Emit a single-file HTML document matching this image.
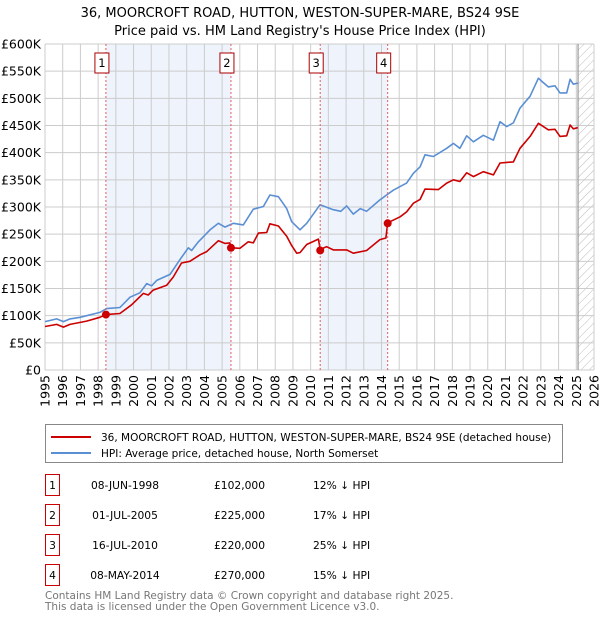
<!DOCTYPE html>
<html><head><meta charset="utf-8"><style>
body{margin:0;background:#fff;font-family:"DejaVu Sans","Liberation Sans",sans-serif;}
svg text{font-family:"DejaVu Sans","Liberation Sans",sans-serif;}
</style></head><body>
<svg id="chart" width="600" height="620" viewBox="0 0 600 620" xmlns="http://www.w3.org/2000/svg">
<defs><pattern id="hatch" width="6" height="6" patternUnits="userSpaceOnUse" patternTransform="rotate(45)"><line x1="0" y1="0" x2="0" y2="6" stroke="#bbb" stroke-width="1"/></pattern></defs>
<text x="300" y="17" text-anchor="middle" font-size="13">36, MOORCROFT ROAD, HUTTON, WESTON-SUPER-MARE, BS24 9SE</text>
<text x="300" y="35" text-anchor="middle" font-size="13">Price paid vs. HM Land Registry's House Price Index (HPI)</text>
<g id="bands"></g><g id="grid"></g><g id="axes"></g><g id="series"></g><g id="markers"></g>
<g>
<rect x="45.5" y="424.5" width="517" height="38" fill="#fff" stroke="#888"/>
<line x1="51" y1="437" x2="91" y2="437" stroke="#cc0000" stroke-width="2"/>
<text x="101" y="441" font-size="10.5">36, MOORCROFT ROAD, HUTTON, WESTON-SUPER-MARE, BS24 9SE (detached house)</text>
<line x1="51" y1="453" x2="91" y2="453" stroke="#5b8fd4" stroke-width="2"/>
<text x="101" y="457" font-size="10.5">HPI: Average price, detached house, North Somerset</text>
</g>
<g id="table" font-size="10.7"></g>
<text x="45" y="599" font-size="10.5" fill="#777">Contains HM Land Registry data © Crown copyright and database right 2025.</text>
<text x="45" y="610" font-size="10.5" fill="#777">This data is licensed under the Open Government Licence v3.0.</text>
</svg>
<script>
const hpiYears=[1995,1995.66,1996.04,1996.41,1996.98,1998.1,1998.48,1999.23,1999.8,2000.36,2000.74,2001.02,2001.31,2002.06,2002.62,2003.09,2003.28,2003.66,2004.32,2004.79,2005.16,2005.63,2006.2,2006.76,2007.33,2007.7,2008.18,2008.65,2008.93,2009.4,2009.78,2010.53,2011.28,2011.7,2012.03,2012.41,2012.8,2013.16,2013.91,2014.29,2014.67,2015.42,2015.8,2016.18,2016.46,2016.93,2017.68,2018.06,2018.43,2018.81,2019.19,2019.75,2020.32,2020.69,2021.07,2021.45,2021.82,2022.39,2022.86,2023.1,2023.42,2023.8,2024.08,2024.46,2024.65,2024.83,2025.08];
const hpiValues=[89,94,89,94,97,106,113,115,134,142,159,155,165,176,203,225,220,236,258,270,263,270,267,296,301,322,319,297,273,258,270,304,295,292,302,287,297,292,313,322,331,344,362,374,396,393,408,417,408,431,420,432,423,457,448,455,482,504,537,530,521,523,510,510,535,526,528];
const ppYears=[1995,1995.66,1996.04,1996.41,1997.35,1998.1,1998.44,1999.23,1999.89,2000.55,2000.83,2001.11,2001.87,2002.24,2002.71,2003.18,2003.75,2004.13,2004.79,2005.16,2005.44,2005.5,2006.01,2006.48,2006.76,2007.05,2007.52,2007.7,2008.18,2008.65,2008.93,2009.21,2009.4,2009.78,2010.44,2010.54,2010.9,2011.28,2012.03,2012.41,2013.16,2013.91,2014.25,2014.35,2015.05,2015.42,2015.8,2016.18,2016.46,2017.21,2017.68,2018.06,2018.43,2018.81,2019.19,2019.75,2020.32,2020.69,2021.07,2021.45,2021.82,2022.39,2022.86,2023.42,2023.8,2024.08,2024.46,2024.65,2024.83,2025.08];
const ppValues=[80,84,79,84,90,97,102,104,120,141,138,147,156,171,197,200,212,218,238,233,234,225,224,236,234,252,253,269,265,246,229,215,216,231,241,222,227,221,221,215,220,240,243,271,282,291,307,314,333,332,344,350,347,363,356,365,359,381,382,383,408,430,454,442,443,430,431,451,444,446];
const saleYears=[1998.44,2005.5,2010.54,2014.35];
const saleValues=[102000,225000,220000,270000];
const saleLabels=["1","2","3","4"];
const saleDates=["08-JUN-1998","01-JUL-2005","16-JUL-2010","08-MAY-2014"];
const salePrices=["£102,000","£225,000","£220,000","£270,000"];
const salePcts=["12% ↓ HPI","17% ↓ HPI","25% ↓ HPI","15% ↓ HPI"];
const yTicks=[0,50,100,150,200,250,300,350,400,450,500,550,600];
const yTickLabels=["£0","£50K","£100K","£150K","£200K","£250K","£300K","£350K","£400K","£450K","£500K","£550K","£600K"];
const xTicks=[1995,1996,1997,1998,1999,2000,2001,2002,2003,2004,2005,2006,2007,2008,2009,2010,2011,2012,2013,2014,2015,2016,2017,2018,2019,2020,2021,2022,2023,2024,2025,2026];
const forecastStart=2025.1;

const NS="http://www.w3.org/2000/svg";
const L=45,R=594,T=44,B=370;
const xs=y=>L+(y-1995)/(2026-1995)*(R-L);
const ys=v=>B-v/600*(B-T);
function mk(tag,attrs,parent,text){const e=document.createElementNS(NS,tag);for(const k in attrs)e.setAttribute(k,attrs[k]);if(text!==undefined)e.textContent=text;parent.appendChild(e);return e;}
const bands=document.getElementById('bands'),grid=document.getElementById('grid'),axes=document.getElementById('axes'),series=document.getElementById('series'),markers=document.getElementById('markers'),table=document.getElementById('table');

for(let i=0;i<2;i++){
  const b=mk('rect',{x:xs(saleYears[i*2]),y:T,width:xs(saleYears[i*2+1])-xs(saleYears[i*2]),height:B-T,fill:'#eef3fc'},bands);
  
  
}
const hz=mk('rect',{x:xs(forecastStart),y:T,width:R-xs(forecastStart),height:B-T,fill:'url(#hatch)'},bands);



yTicks.forEach((t,i)=>{
  const g=mk('line',{x1:L,x2:R,y1:ys(t),y2:ys(t),stroke:'#cccccc','stroke-width':1},grid);
  
  
  const tx=mk('text',{x:L-4,y:ys(t)+4.5,'text-anchor':'end','font-size':12.5},axes,yTickLabels[i]);
  
  
});
xTicks.forEach(t=>{
  const g=mk('line',{x1:xs(t),x2:xs(t),y1:T,y2:B,stroke:'#cccccc','stroke-width':1},grid);
  
  
  const tx=mk('text',{x:0,y:0,'text-anchor':'end','font-size':12.5,transform:`translate(${xs(t)+4.5},${B+5}) rotate(-90)`},axes,String(t));
  
  
});
const fl=mk('line',{x1:xs(forecastStart),x2:xs(forecastStart),y1:T,y2:B,stroke:'#999','stroke-width':1.2},grid);



function path(xsArr,vs,color,name){
  const d=xsArr.map((x,i)=>(i?'L':'M')+xs(x).toFixed(1)+','+ys(vs[i]).toFixed(1)).join('');
  const p=mk('path',{d:d,fill:'none',stroke:color,'stroke-width':1.6,'stroke-linejoin':'round'},series);
  
  
}
path(hpiYears,hpiValues,'#5b8fd4','hpi-line');
path(ppYears,ppValues,'#cc0000','property-price-line');

saleYears.forEach((y,i)=>{
  const ln=mk('line',{x1:xs(y),x2:xs(y),y1:T,y2:B,stroke:'#e06060','stroke-width':1,'stroke-dasharray':'2,2'},markers);
  
  
  const c=mk('circle',{cx:xs(y),cy:ys(saleValues[i]/1000),r:4,fill:'#cc0000'},markers);
  
  
  const bx=xs(y)-4;
  const r=mk('rect',{x:bx-7,y:53,width:14,height:20,fill:'#fff',stroke:'#aa0000'},markers);
  
  
  const t=mk('text',{x:bx,y:67,'text-anchor':'middle','font-size':11.5},markers,saleLabels[i]);
  
  
});

const rowY=[485,515,545,575];
saleLabels.forEach((l,i)=>{
  const y=rowY[i];
  const r=mk('rect',{x:45.5,y:y-10.5,width:14,height:21,fill:'#fff',stroke:'#cc0000'},table);
  
  
  const t1=mk('text',{x:52.5,y:y+4,'text-anchor':'middle'},table,l);
  
  
  const t2=mk('text',{x:125,y:y+4,'text-anchor':'middle'},table,saleDates[i]);
  
  
  const t3=mk('text',{x:265,y:y+4,'text-anchor':'end'},table,salePrices[i]);
  
  
  const t4=mk('text',{x:313,y:y+4},table,salePcts[i]);
  
  
});
</script>
</body></html>
